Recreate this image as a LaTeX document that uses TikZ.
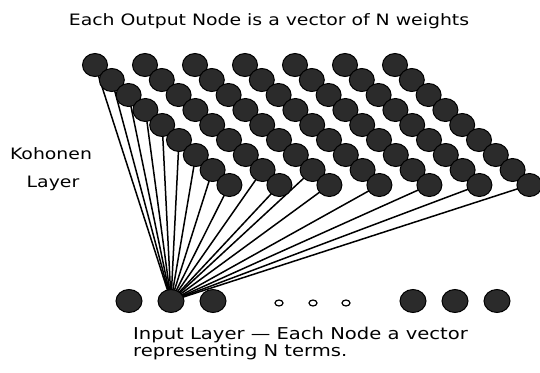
\documentclass[tikz,border=0pt]{standalone}
\usepackage{fontspec}
\setmainfont{DejaVu Sans}[FakeStretch=1.2]
\usetikzlibrary{shapes.geometric,backgrounds}
\definecolor{kfill}{HTML}{2B2B2B}
\begin{document}
\begin{tikzpicture}[x=1pt,y=-1pt,
  knode/.style={ellipse,fill=kfill,draw=black,line width=1pt,minimum width=25pt,minimum height=23pt,inner sep=0pt},
  inode/.style={ellipse,fill=kfill,draw=black,line width=1pt,minimum width=26pt,minimum height=23pt,inner sep=0pt},
  smallnode/.style={ellipse,fill=white,draw=black,line width=1.2pt,minimum width=8pt,minimum height=6pt,inner sep=0pt},
  link/.style={line width=1.5pt},
  lbl/.style={font=\fontsize{15.7}{17}\selectfont,inner sep=0pt},
  blbl/.style={font=\fontsize{16.3}{17}\selectfont,inner sep=0pt}]
\useasboundingbox (0,0) rectangle (540,372);
\foreach \r in {0,...,8}{
  \foreach \c in {0,...,6}{
    \node[knode] (k-\c-\r) at ({95+50*\c+16.8*\r},{65+15*\r}) {};
  }
}
\node[inode] (in1) at (129,301) {};
\node[inode] (in2) at (171,301) {};
\node[inode] (in3) at (213,301) {};
\node[smallnode] (s1) at (279,303) {};
\node[smallnode] (s2) at (313,303) {};
\node[smallnode] (s3) at (346,303) {};
\node[inode] (in4) at (413,301) {};
\node[inode] (in5) at (455,301) {};
\node[inode] (in6) at (497,301) {};
\begin{scope}[on background layer]
  \foreach \r in {0,...,8} \draw[link] (in2.center) -- (k-0-\r.center);
  \foreach \c in {1,2} \draw[link] (in2.center) -- (k-\c-7.center);
  \foreach \c in {1,...,6} \draw[link] (in2.center) -- (k-\c-8.center);
\end{scope}
\node[lbl,anchor=base] (title) at (269,25) {Each Output Node is a vector of N weights};
\node[lbl,anchor=base] (koh1) at (51,159) {Kohonen};
\node[lbl,anchor=base] (koh2) at (53,187) {Layer};
\node[blbl,anchor=base west] (inp1) at (133,339) {Input Layer — Each Node a vector};
\node[blbl,anchor=base west] (inp2) at (133,356) {representing N terms.};
\end{tikzpicture}
\end{document}
